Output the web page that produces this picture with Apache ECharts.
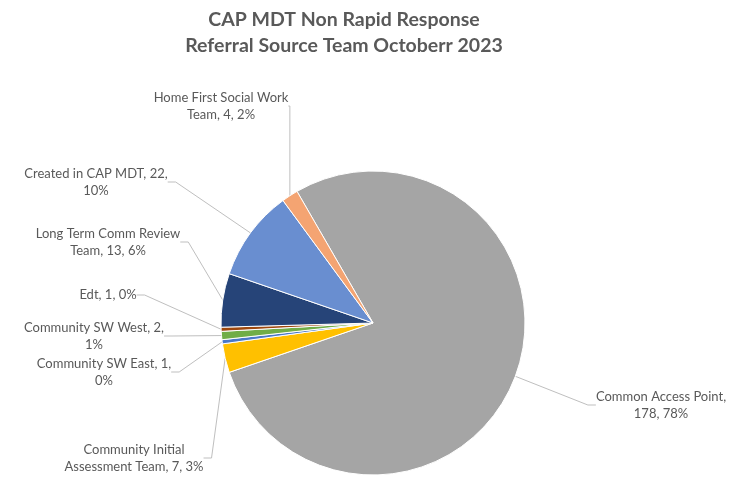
<!DOCTYPE html>
<html>
<head>
<meta charset="utf-8">
<title>CAP MDT Non Rapid Response</title>
<script src="https://cdn.jsdelivr.net/npm/echarts@6/dist/echarts.min.js"></script>
<style>
  html, body { margin: 0; padding: 0; background: #ffffff; }
  #chart { width: 746px; height: 477px; }
</style>
</head>
<body>
<div id="chart"></div>
<script>
// Referral sources, in clockwise order starting with the largest slice
const categories = [
  'Common Access Point',
  'Community Initial Assessment Team',
  'Community SW East',
  'Community SW West',
  'Edt',
  'Long Term Comm Review Team',
  'Created in CAP MDT',
  'Home First Social Work Team'
];
const referrals = [178, 7, 1, 2, 1, 13, 22, 4];

// Slice colours
const sliceColors = ['#A5A5A5', '#FFC000', '#4A78C8', '#70AD47', '#9E480E', '#264478', '#698ED0', '#F4A472'];

// Words kept on the first line of each label (rest wraps to a second line)
const firstLineWords = [3, 2, 4, 4, 99, 4, 5, 4];

// Label block centres (px) for the leader-line labels
const labelCentres = [
  [661, 405], [134, 458], [104, 372], [94, 336],
  [108, 295], [108, 242], [96, 182], [221, 106]
];

const chart = echarts.init(document.getElementById('chart'), null, { renderer: 'canvas' });

const FONT = 'Lato, "Open Sans", sans-serif';

chart.setOption({
  animation: false,
  backgroundColor: '#ffffff',
  title: {
    text: 'CAP MDT Non Rapid Response\nReferral Source Team Octoberr 2023',
    left: 344,
    top: 7,
    padding: 0,
    textAlign: 'center',
    textStyle: {
      fontFamily: FONT,
      fontSize: 19.5,
      fontWeight: 'bold',
      color: '#595959',
      lineHeight: 26
    }
  },
  series: [{
    type: 'pie',
    center: [373, 323],
    radius: [0, 152],
    startAngle: 120,
    clockwise: true,
    percentPrecision: 0,
    avoidLabelOverlap: false,
    itemStyle: { borderColor: '#ffffff', borderWidth: 1 },
    label: {
      show: true,
      position: 'outside',
      fontFamily: FONT,
      fontSize: 13,
      lineHeight: 17,
      color: '#595959',
      align: 'center',
      formatter: function (p) {
        const words = (p.name + ', ' + p.value + ', ' + p.percent + '%').split(' ');
        const n = firstLineWords[p.dataIndex];
        if (words.length <= n) return words.join(' ');
        return words.slice(0, n).join(' ') + '\n' + words.slice(n).join(' ');
      }
    },
    labelLine: {
      show: true,
      length: 8,
      length2: 8,
      lineStyle: { color: '#BFBFBF', width: 1 }
    },
    labelLayout: function (params) {
      const c = labelCentres[params.dataIndex];
      return { x: c[0], y: c[1], align: 'center', verticalAlign: 'middle' };
    },
    emphasis: { disabled: true },
    data: categories.map(function (name, i) {
      return { name: name, value: referrals[i], itemStyle: { color: sliceColors[i] } };
    })
  }]
});
</script>
</body>
</html>
